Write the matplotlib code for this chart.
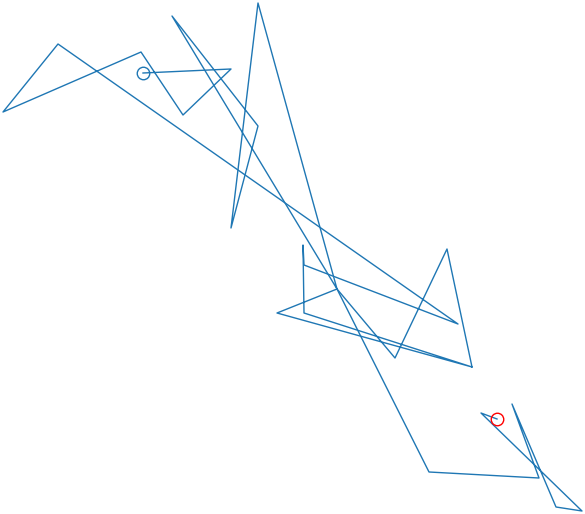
import matplotlib
matplotlib.use('Agg')
import matplotlib.pyplot as plt
import numpy as np

# the walk (x right, y down), in two pieces that meet at (337, 289)
first_x = [143, 231, 183, 141, 3, 58, 458, 304, 303, 304, 472, 277, 337, 395, 447, 472]
first_y = [73, 69, 115, 52, 112, 44, 324, 265, 245, 313, 367, 313, 289, 358, 249, 367]

second_x = [337, 258, 231, 258, 172, 337, 429, 539, 512, 556, 582, 481, 497]
second_y = [289, 3, 228, 126, 16, 289, 472, 478, 404, 507, 511, 413, 419]

start_x, start_y = first_x[0], first_y[0]
end_x, end_y = second_x[-1], second_y[-1]

fig = plt.figure(figsize=(5.85, 5.14), dpi=100)
ax = fig.add_axes([0, 0, 1, 1])
ax.plot(first_x, first_y, color='#1f77b4', linewidth=1.0)
ax.plot(second_x, second_y, color='#1f77b4', linewidth=1.0)
ax.plot(start_x, start_y, 'o', markersize=9, markerfacecolor='none',
        markeredgecolor='#1f77b4', markeredgewidth=1.0)
ax.plot(end_x, end_y, 'o', markersize=9, markerfacecolor='none',
        markeredgecolor='red', markeredgewidth=1.0)
ax.set_xlim(0, 585)
ax.set_ylim(514, 0)
ax.axis('off')

fig.savefig('out.png', dpi=100)
